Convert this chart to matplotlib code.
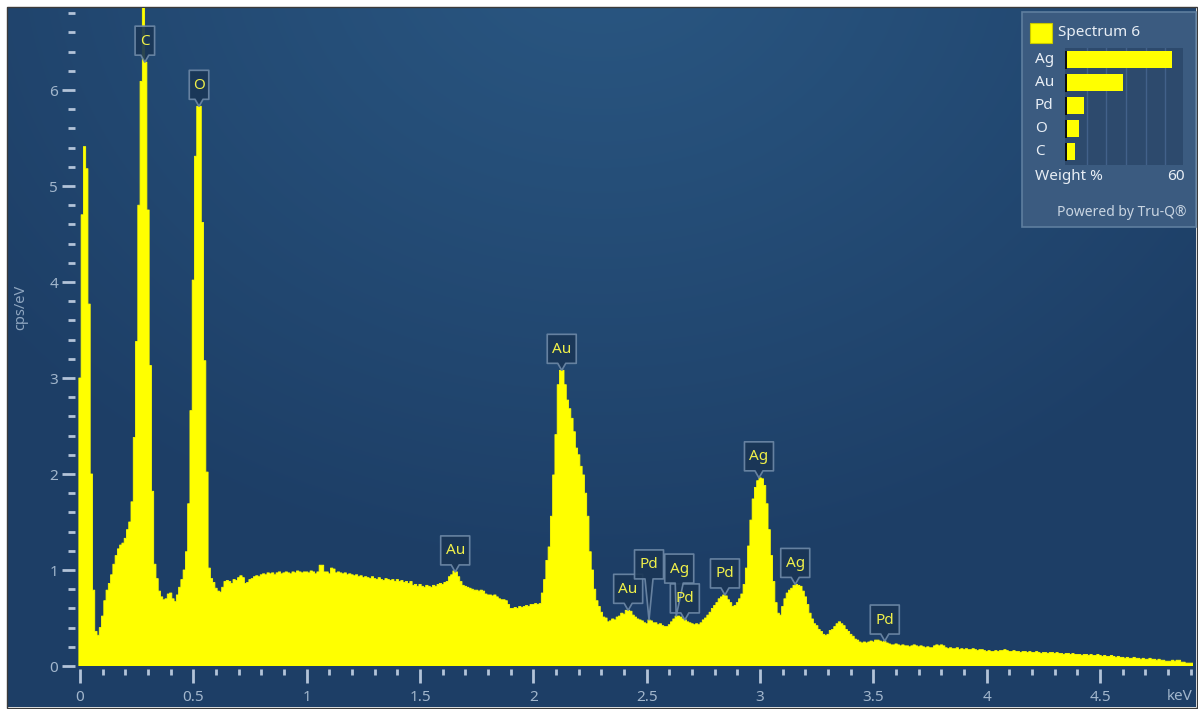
import numpy as np
import matplotlib
matplotlib.use('Agg')
import matplotlib.pyplot as plt
from matplotlib.patches import Rectangle, Polygon
from matplotlib.ticker import MultipleLocator, FuncFormatter
from matplotlib.transforms import blended_transform_factory

plt.rcParams['font.family'] = ['Noto Sans', 'DejaVu Sans']

W, H = 1198, 709

# EDS spectrum, cps/eV per 10 eV channel (channel i centred on i*0.01 keV)
channel_kev = 0.01
counts = [
    3.00, 4.70, 5.41, 5.18, 3.77, 2.00, 0.79, 0.36, 0.32, 0.40,
    0.52, 0.68, 0.79, 0.86, 0.95, 1.06, 1.15, 1.22, 1.26, 1.28,
    1.33, 1.42, 1.50, 1.71, 2.38, 3.38, 4.80, 6.09, 7.60, 6.29,
    4.75, 3.13, 1.82, 1.06, 0.91, 0.78, 0.72, 0.69, 0.70, 0.75,
    0.76, 0.70, 0.67, 0.74, 0.82, 0.90, 1.00, 1.19, 1.69, 2.66,
    4.02, 5.31, 5.83, 5.83, 4.62, 3.18, 2.02, 1.02, 0.91, 0.87,
    0.81, 0.78, 0.77, 0.82, 0.88, 0.89, 0.88, 0.86, 0.90, 0.89,
    0.92, 0.94, 0.92, 0.86, 0.87, 0.90, 0.91, 0.93, 0.94, 0.93,
    0.95, 0.96, 0.95, 0.97, 0.96, 0.97, 0.95, 0.97, 0.98, 0.96,
    0.97, 0.98, 0.97, 0.96, 0.98, 0.97, 0.99, 0.98, 0.97, 0.98,
    0.98, 0.97, 0.99, 0.98, 0.96, 0.98, 1.05, 1.05, 0.98, 0.98,
    0.96, 1.02, 1.01, 0.97, 0.98, 0.97, 0.96, 0.97, 0.95, 0.96,
    0.95, 0.94, 0.95, 0.93, 0.94, 0.92, 0.93, 0.92, 0.91, 0.93,
    0.91, 0.90, 0.92, 0.90, 0.89, 0.91, 0.90, 0.89, 0.90, 0.88,
    0.90, 0.88, 0.89, 0.87, 0.88, 0.86, 0.88, 0.84, 0.85, 0.83,
    0.85, 0.83, 0.82, 0.84, 0.83, 0.82, 0.84, 0.83, 0.85, 0.86,
    0.85, 0.87, 0.88, 0.93, 0.95, 0.99, 0.98, 0.93, 0.88, 0.84,
    0.83, 0.82, 0.81, 0.80, 0.79, 0.79, 0.78, 0.79, 0.78, 0.75,
    0.74, 0.74, 0.73, 0.74, 0.72, 0.70, 0.69, 0.69, 0.68, 0.64,
    0.60, 0.60, 0.61, 0.60, 0.62, 0.61, 0.62, 0.63, 0.62, 0.64,
    0.64, 0.65, 0.64, 0.65, 0.76, 0.90, 1.10, 1.24, 1.56, 1.99,
    2.41, 2.93, 3.08, 3.08, 2.93, 2.77, 2.68, 2.58, 2.44, 2.27,
    2.20, 2.08, 1.99, 1.80, 1.56, 1.19, 1.00, 0.80, 0.68, 0.62,
    0.56, 0.51, 0.50, 0.46, 0.47, 0.49, 0.48, 0.51, 0.52, 0.55,
    0.54, 0.58, 0.58, 0.57, 0.53, 0.51, 0.49, 0.48, 0.47, 0.45,
    0.44, 0.48, 0.47, 0.45, 0.45, 0.43, 0.44, 0.42, 0.41, 0.41,
    0.43, 0.46, 0.49, 0.52, 0.52, 0.51, 0.49, 0.48, 0.46, 0.45,
    0.44, 0.43, 0.44, 0.43, 0.45, 0.48, 0.50, 0.53, 0.56, 0.60,
    0.63, 0.66, 0.70, 0.72, 0.74, 0.73, 0.69, 0.66, 0.62, 0.63,
    0.66, 0.70, 0.75, 0.85, 1.02, 1.25, 1.52, 1.74, 1.86, 1.93,
    1.96, 1.95, 1.88, 1.69, 1.42, 1.15, 0.88, 0.66, 0.55, 0.53,
    0.62, 0.70, 0.76, 0.79, 0.81, 0.84, 0.85, 0.84, 0.83, 0.78,
    0.72, 0.64, 0.55, 0.49, 0.44, 0.42, 0.38, 0.36, 0.33, 0.32,
    0.33, 0.37, 0.38, 0.41, 0.44, 0.46, 0.44, 0.42, 0.38, 0.36,
    0.33, 0.31, 0.28, 0.27, 0.25, 0.24, 0.25, 0.24, 0.25, 0.26,
    0.25, 0.27, 0.27, 0.26, 0.25, 0.26, 0.24, 0.23, 0.22, 0.22,
    0.23, 0.22, 0.21, 0.22, 0.21, 0.21, 0.20, 0.21, 0.22, 0.21,
    0.20, 0.21, 0.20, 0.19, 0.20, 0.19, 0.19, 0.21, 0.22, 0.21,
    0.22, 0.21, 0.19, 0.18, 0.19, 0.18, 0.18, 0.19, 0.17, 0.18,
    0.17, 0.18, 0.17, 0.17, 0.18, 0.17, 0.16, 0.17, 0.17, 0.16,
    0.15, 0.16, 0.15, 0.15, 0.16, 0.15, 0.16, 0.16, 0.17, 0.16,
    0.15, 0.15, 0.16, 0.15, 0.15, 0.14, 0.15, 0.15, 0.14, 0.15,
    0.14, 0.14, 0.15, 0.14, 0.13, 0.14, 0.14, 0.13, 0.14, 0.14,
    0.13, 0.14, 0.13, 0.13, 0.12, 0.13, 0.13, 0.12, 0.13, 0.12,
    0.12, 0.12, 0.11, 0.12, 0.12, 0.11, 0.12, 0.11, 0.11, 0.12,
    0.11, 0.10, 0.11, 0.10, 0.10, 0.11, 0.10, 0.09, 0.10, 0.09,
    0.09, 0.08, 0.09, 0.08, 0.08, 0.09, 0.08, 0.08, 0.07, 0.08,
    0.07, 0.07, 0.08, 0.07, 0.07, 0.06, 0.07, 0.06, 0.06, 0.05,
    0.05, 0.05, 0.06, 0.05, 0.06, 0.06, 0.04, 0.04, 0.03, 0.03,
    0.03, 0.03,
]

# element line markers
peak_names = ['C', 'O', 'Au', 'Au', 'Au', 'Pd', 'Ag', 'Pd', 'Pd', 'Ag', 'Ag', 'Pd']
peak_kev = [0.286, 0.525, 1.655, 2.125, 2.418, 2.51, 2.63, 2.668, 2.845, 2.995, 3.155, 3.55]

# quant result
spectrum_name = 'Spectrum 6'
quant_elements = ['Ag', 'Au', 'Pd', 'O', 'C']
quant_wt = [53.1, 28.2, 8.4, 6.2, 4.0]
wt_axis_max = 60

YELLOW = '#ffff00'
TICK_C = '#b3c3d8'
LABEL_C = '#a2b6cc'

fig = plt.figure(figsize=(W / 100, H / 100), dpi=100, facecolor='white')


def fx(px):
    return px / W


def fy(py):
    return 1 - py / H


# background panel with a soft radial glow near the top
bg = fig.add_axes([0, 0, 1, 1], zorder=0)
bg.set_xlim(0, W)
bg.set_ylim(H, 0)
bg.axis('off')
yy, xx = np.mgrid[7:707, 7:1196]
r = np.clip(np.hypot((xx - 600) / 780.0, (yy + 60) / 640.0), 0, 1)
c_in = np.array([42, 87, 130]) / 255.0
c_out = np.array([29, 62, 102]) / 255.0
img = c_in + (c_out - c_in) * (r[..., None] ** 1.1)
bg.imshow(img, extent=(7, 1196, 707, 7), aspect='auto', interpolation='bilinear')
bg.add_patch(Rectangle((6.5, 6.5), 1190, 701, fill=False, ec='#3b3b3b', lw=1))

# spectrum axes: x=0 at px 80, 226.7 px/keV; y=0 at px 666, 96 px/unit
ax = fig.add_axes([fx(78), fy(666), fx(1193) - fx(78), fy(8) - fy(666)], zorder=1)
ax.patch.set_alpha(0)
n = len(counts)
edges = (np.arange(n + 1) - 0.5) * channel_kev
step_x = np.repeat(edges, 2)[1:-1]
step_y = np.repeat(counts, 2)
ax.fill_between(step_x, step_y, 0, color=YELLOW, lw=0.6, edgecolor=YELLOW)
ax.set_xlim(-2 / 226.7, (1193 - 80) / 226.7)
ax.set_ylim(0, 658 / 96)

for s in ax.spines.values():
    s.set_visible(False)
ax.spines['left'].set_position(('outward', 2))
ax.spines['bottom'].set_position(('outward', 2))

ax.xaxis.set_major_locator(MultipleLocator(0.5))
ax.xaxis.set_minor_locator(MultipleLocator(0.1))
ax.yaxis.set_major_locator(MultipleLocator(1))
ax.yaxis.set_minor_locator(MultipleLocator(0.2))
fmt = FuncFormatter(lambda v, p: f'{v:g}')
ax.xaxis.set_major_formatter(fmt)
ax.yaxis.set_major_formatter(fmt)

ax.tick_params(axis='x', which='major', length=10, width=2, color=TICK_C,
               labelcolor=LABEL_C, labelsize=11, pad=5)
ax.tick_params(axis='x', which='minor', length=4.3, width=2, color=TICK_C)
ax.tick_params(axis='y', which='major', length=9.4, width=2, color=TICK_C,
               labelcolor=LABEL_C, labelsize=11, pad=3)
ax.tick_params(axis='y', which='minor', length=5, width=2, color=TICK_C)

ax.set_ylabel('cps/eV', color='#8fa6c0', fontsize=10.5)
ax.yaxis.set_label_coords(-0.045, 0.545)

# overlay in pixel coordinates for markers and the quant panel
ov = fig.add_axes([0, 0, 1, 1], zorder=2)
ov.set_xlim(0, W)
ov.set_ylim(H, 0)
ov.axis('off')
ov.patch.set_alpha(0)

ov.text(1193, 696, 'keV', ha='right', va='center', color=LABEL_C, fontsize=11)


def to_px(x, y):
    dx, dy = ax.transData.transform((x, y))
    return dx, H - dy


# boxes that sit away from their peak (dx, lift in px)
shifted = {5: (0, 41), 6: (3, 33)}
order = [0, 1, 2, 3, 4, 7, 5, 6, 8, 9, 10, 11]
for k in order:
    name, e = peak_names[k], peak_kev[k]
    idx = int(round(e / channel_kev))
    tx, ty = to_px(e, counts[idx])
    dxo, lift = shifted.get(k, (0, 7))
    w = 10 + 9.5 * len(name)
    h = 29
    cx = tx + dxo
    bot = ty - lift
    top = bot - h
    verts = [(cx - w / 2, top), (cx + w / 2, top), (cx + w / 2, bot),
             (cx + 4, bot), (tx, ty), (cx - 4, bot), (cx - w / 2, bot)]
    ov.add_patch(Polygon(verts, closed=True, fc='#1a3656', ec='#6d88a6',
                         lw=1.2, alpha=0.92, joinstyle='round'))
    ov.text(cx, top + h / 2 + 0.5, name, ha='center', va='center',
            color='#f0f04a', fontsize=11)

# quant panel
ov.add_patch(Rectangle((1022, 12), 174, 215, fc='#3b5b80', ec='#5e7e9f', lw=1.2))
ov.add_patch(Rectangle((1030, 23), 22, 20, fc=YELLOW, ec='#c8c800', lw=0.8))
ov.text(1058, 33, spectrum_name, ha='left', va='center', color='#e8eef5', fontsize=11)

ax_q = fig.add_axes([fx(1065), fy(165), fx(1183) - fx(1065), fy(48) - fy(165)], zorder=3)
ax_q.set_facecolor('#2d4a6d')
ax_q.set_xlim(-1, 118 / 19.7 * 10 - 1)
ax_q.set_ylim(len(quant_elements) - 0.43, -0.52)
for g in range(10, wt_axis_max, 10):
    ax_q.axvline(g, color='#42618a', lw=1, zorder=0)
rows = np.arange(len(quant_elements))
ax_q.barh(rows, quant_wt, height=0.74, color=YELLOW, zorder=2)
ax_q.barh(rows, 1.2, left=-1.0, height=0.8, color='#0d0d0d', zorder=3)
for s in ax_q.spines.values():
    s.set_visible(False)
ax_q.set_xticks([])
ax_q.set_yticks([])

lab_tr = blended_transform_factory(ov.transData, ax_q.transData)
for i, el in enumerate(quant_elements):
    ov.text(1035, i, el, transform=lab_tr, ha='left', va='center',
            color='#e8eef5', fontsize=11)

ov.text(1035, 176, 'Weight %', ha='left', va='center', color='#e8eef5', fontsize=11)
top_tr = blended_transform_factory(ax_q.transData, ov.transData)
ov.text(wt_axis_max, 176, str(wt_axis_max), transform=top_tr, ha='right', va='center',
        color='#e8eef5', fontsize=11)
ov.text(1186, 212, 'Powered by Tru-Q®', ha='right', va='center', color='#c9d5e2', fontsize=10)

fig.savefig('out.png', dpi=100, facecolor='white')
